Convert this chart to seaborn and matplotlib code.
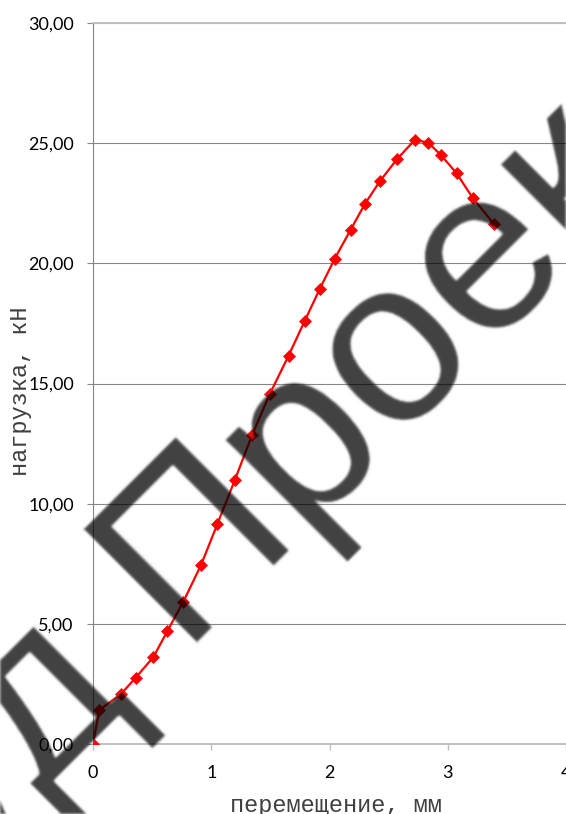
import numpy as np
import pandas as pd
import matplotlib
matplotlib.use("Agg")
import matplotlib.pyplot as plt
import seaborn as sns

# Load–displacement test record
displacement_mm = [0.000, 0.053, 0.237, 0.361, 0.511, 0.630, 0.764, 0.913, 1.051,
                   1.200, 1.344, 1.494, 1.654, 1.792, 1.919, 2.045, 2.178, 2.299,
                   2.428, 2.570, 2.722, 2.834, 2.942, 3.074, 3.210, 3.390]
load_kn = [0.00, 1.41, 2.08, 2.76, 3.62, 4.71, 5.92, 7.44, 9.14,
           10.99, 12.84, 14.55, 16.16, 17.62, 18.95, 20.20, 21.39, 22.47,
           23.43, 24.33, 25.14, 25.02, 24.51, 23.75, 22.73, 21.64]

x_ticks = [0, 1, 2, 3, 4]
x_tick_labels = ["0", "1", "2", "3", "4"]
y_ticks = [0, 5, 10, 15, 20, 25, 30]
y_tick_labels = ["0,00", "5,00", "10,00", "15,00", "20,00", "25,00", "30,00"]

x_label = "перемещение, мм"
y_label = "нагрузка, кН"
watermark_head = "Студ"
watermark_tail = "Проект"

W, H = 566, 814

sns.set_style("white")
plt.rcParams["font.family"] = ["Lato", "DejaVu Sans"]

df = pd.DataFrame({"x": displacement_mm, "y": load_kn})

fig = plt.figure(figsize=(W / 100, H / 100), dpi=100)
ax = fig.add_axes([93 / W, 70 / H, (W - 93) / W, (744 - 23) / H])

sns.lineplot(data=df, x="x", y="y", sort=False, ax=ax, color="#ff0000",
             linewidth=1.6, marker="D", markersize=6.2,
             markeredgecolor="#ff0000", markeredgewidth=0.5, zorder=3)

ax.set_xlim(0, 4)
ax.set_ylim(0, 30)
ax.set_xticks(x_ticks)
ax.set_xticklabels(x_tick_labels)
ax.set_yticks(y_ticks)
ax.set_yticklabels(y_tick_labels)
ax.set_xlabel("")
ax.set_ylabel("")

ax.yaxis.grid(True, color="#868686", linewidth=0.8)
ax.xaxis.grid(False)
ax.set_axisbelow(True)

for side in ("top", "bottom"):
    ax.spines[side].set_color("#bfbfbf")
    ax.spines[side].set_linewidth(1.4)
ax.spines["left"].set_color("#868686")
ax.spines["left"].set_linewidth(0.8)
ax.spines["right"].set_visible(False)

ax.tick_params(axis="y", length=4.3, width=0.8, color="#868686", pad=9.5,
               labelsize=13, labelcolor="black", left=True)
ax.tick_params(axis="x", length=4.3, width=1.0, color="#bfbfbf", pad=10.5,
               labelsize=13, labelcolor="black", bottom=True)

mono = ["Liberation Mono", "DejaVu Sans Mono"]
fig.text(336 / W, 1 - 812 / H, x_label, family=mono, fontsize=17,
         color="#404040", ha="center", va="baseline")
fig.text(27 / W, 1 - 391 / H, y_label, family=mono, fontsize=17,
         color="#404040", ha="center", va="baseline", rotation=90,
         rotation_mode="anchor")


def soften(img, dpi):
    """Light gaussian blur applied to the rendered watermark."""
    sigma = 1.3
    r = 4
    k = np.exp(-0.5 * (np.arange(-r, r + 1) / sigma) ** 2)
    k /= k.sum()
    a = np.pad(img, ((2 * r, 2 * r), (2 * r, 2 * r), (0, 0)))
    hh, ww = a.shape[:2]
    t = np.zeros_like(a)
    for i, wt in enumerate(k):
        t[r:hh - r] += wt * a[i:hh - 2 * r + i]
    u = np.zeros_like(a)
    for i, wt in enumerate(k):
        u[:, r:ww - r] += wt * t[:, i:ww - 2 * r + i]
    return u, -2 * r, -2 * r


wm_style = dict(family=["Liberation Sans", "DejaVu Sans"], fontsize=168,
                color="black", alpha=0.75, rotation=45, rotation_mode="anchor",
                va="baseline", zorder=10)
t1 = fig.text(178 / W, 1 - 643 / H, watermark_tail, ha="left", **wm_style)
t2 = fig.text(132.6 / W, 1 - 690 / H, watermark_head, ha="right", **wm_style)
for t in (t1, t2):
    t.set_agg_filter(soften)

fig.savefig("out.png", dpi=100)
